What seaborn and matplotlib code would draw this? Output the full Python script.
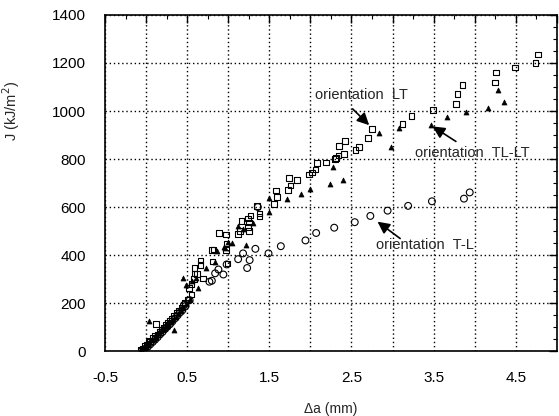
import numpy as np
import matplotlib
matplotlib.use("Agg")
import matplotlib.pyplot as plt
import seaborn as sns
from matplotlib.ticker import MultipleLocator, FuncFormatter

# --- data: crack extension (mm) vs J (kJ/m2) ---
lt_da = [-0.07, -0.04, -0.02, 0.01, 0.03, 0.05, 0.08, 0.10, 0.12, 0.14, 0.17, 0.19,
         0.21, 0.24, 0.26, 0.29, 0.31, 0.34, 0.37, 0.40, 0.43, 0.47, 0.51, 0.55,
         0.52, 0.55, 0.58, 0.62, 0.59, 0.59, 0.66, 0.66, 0.69, 0.80, 0.82, 0.81,
         0.89, 0.97, 0.98, 0.97, 0.99, 1.12, 1.14, 1.16, 1.24, 1.25, 1.24, 1.25,
         1.27, 1.35, 1.38, 1.38, 1.56, 1.58, 1.59, 1.73, 1.74, 1.76, 1.84, 1.98,
         2.02, 2.06, 2.08, 2.19, 2.30, 2.31, 2.34, 2.41, 2.35, 2.42, 2.55, 2.59,
         2.70, 2.75, 3.12, 3.23, 3.49, 3.77, 3.79, 3.85, 4.25, 4.26, 4.49, 4.74, 4.77]
lt_j = [4, 10, 22, 28, 40, 42, 55, 62, 112, 70, 80, 90,
        96, 108, 118, 125, 136, 148, 160, 170, 182, 200, 215, 235,
        262, 280, 300, 320, 345, 324, 378, 358, 303, 421, 424, 374,
        493, 486, 449, 421, 365, 487, 501, 543, 553, 535, 518, 501,
        565, 604, 574, 560, 612, 669, 642, 671, 722, 689, 712, 735,
        744, 757, 783, 786, 800, 805, 814, 822, 854, 876, 837, 851,
        887, 925, 946, 980, 1005, 1029, 1071, 1108, 1118, 1160, 1182, 1200, 1236]

tllt_da = [-0.06, -0.03, 0.00, 0.02, 0.04, 0.07, 0.09, 0.11, 0.13, 0.16, 0.18, 0.20,
           0.23, 0.25, 0.27, 0.30, 0.32, 0.34, 0.36, 0.39, 0.42, 0.45, 0.49, 0.53,
           0.48, 0.56, 0.63, 0.45, 0.61, 0.73, 0.84, 0.86, 0.95, 0.96, 1.00, 1.05,
           1.12, 1.18, 1.22, 1.30, 1.50, 1.49, 1.72, 1.89, 2.00, 2.24, 2.28, 2.40,
           2.84, 2.98, 3.08, 3.47, 3.66, 3.90, 4.16, 4.28, 4.36]
tllt_j = [6, 12, 20, 30, 126, 45, 52, 60, 68, 75, 82, 90,
          98, 105, 112, 120, 130, 87, 140, 155, 165, 178, 195, 218,
          275, 290, 262, 303, 303, 347, 372, 418, 435, 428, 455, 451,
          522, 507, 442, 532, 579, 636, 632, 653, 675, 696, 768, 712,
          907, 852, 931, 942, 974, 997, 1014, 1088, 1039]

tl_da = [-0.05, -0.01, 0.02, 0.05, 0.08, 0.11, 0.14, 0.17, 0.20, 0.23, 0.26, 0.29,
         0.32, 0.35, 0.38, 0.41, 0.44, 0.48, 0.46, 0.53, 0.77, 0.80, 0.84, 0.88,
         0.94, 0.98, 1.12, 1.18, 1.23, 1.26, 1.33, 1.36, 1.49, 1.64, 1.94, 2.07,
         2.29, 2.54, 2.73, 2.94, 3.19, 3.48, 3.87, 3.94]
tl_j = [2, 10, 18, 28, 38, 48, 58, 70, 80, 92, 102, 112,
        124, 136, 148, 160, 170, 188, 192, 212, 289, 293, 324, 340,
        319, 361, 383, 407, 346, 379, 426, 600, 407, 437, 461, 492,
        514, 537, 563, 585, 605, 624, 635, 661]

sns.set_style("white")
plt.rcParams['font.family'] = ['Liberation Sans', 'DejaVu Sans']

fig = plt.figure(figsize=(5.59, 4.16), dpi=100)
ax = fig.add_axes([0.188, 0.156, 0.808, 0.808])

sns.scatterplot(x=lt_da, y=lt_j, marker='s', s=16, ax=ax, zorder=3)
ax.collections[-1].set_facecolor('none')
ax.collections[-1].set_edgecolor('black')
ax.collections[-1].set_linewidth(0.8)

sns.scatterplot(x=tl_da, y=tl_j, marker='o', s=24, ax=ax, zorder=3)
ax.collections[-1].set_facecolor('none')
ax.collections[-1].set_edgecolor('black')
ax.collections[-1].set_linewidth(0.8)

sns.scatterplot(x=tllt_da, y=tllt_j, marker='^', s=13, color='black',
                edgecolor='black', linewidth=0.5, ax=ax, zorder=3)

ax.set_xlim(-0.5, 5.0)
ax.set_ylim(0, 1400)
ax.xaxis.set_major_locator(MultipleLocator(0.5))
ax.xaxis.set_minor_locator(MultipleLocator(0.25))
ax.yaxis.set_major_locator(MultipleLocator(200))
ax.yaxis.set_minor_locator(MultipleLocator(50))

def xfmt(v, pos):
    # only the odd half-millimetres carry a label
    r = (v + 0.5) % 1.0
    if r < 1e-6 or abs(r - 1.0) < 1e-6:
        return f"{v:.1f}"
    return ""
ax.xaxis.set_major_formatter(FuncFormatter(xfmt))

ax.grid(True, which='major', linestyle=(0, (1, 2)), color='black', linewidth=1)
ax.tick_params(which='both', direction='in', top=True, right=True, colors='black')
ax.tick_params(which='major', length=6, width=1, labelsize=11, pad=14)
ax.tick_params(which='minor', length=3, width=0.8)
for sp in ax.spines.values():
    sp.set_color('black')
    sp.set_linewidth(1.2)

ax.set_xlabel("Δa (mm)", fontsize=10)
ax.set_ylabel("J (kJ/m$^2$)", fontsize=10.5)
ax.xaxis.set_label_coords(0.5, -0.15)
ax.yaxis.set_label_coords(-0.184, 0.714)

arrow = dict(arrowstyle='-|>', color='black', lw=1.2, mutation_scale=18)
ax.text(2.05, 1067, "orientation  LT", fontsize=10.5, va='center', ha='left')
ax.annotate("", xy=(2.74, 933), xytext=(2.49, 1017), arrowprops=arrow)
ax.text(3.27, 825, "orientation  TL-LT", fontsize=10.5, va='center', ha='left',
        clip_on=False)
ax.annotate("", xy=(3.46, 942), xytext=(3.80, 867), arrowprops=arrow)
ax.text(2.80, 442, "orientation  T-L", fontsize=10.5, va='center', ha='left')
ax.annotate("", xy=(2.79, 546), xytext=(3.12, 462), arrowprops=arrow)

fig.savefig("out.png", dpi=100)
